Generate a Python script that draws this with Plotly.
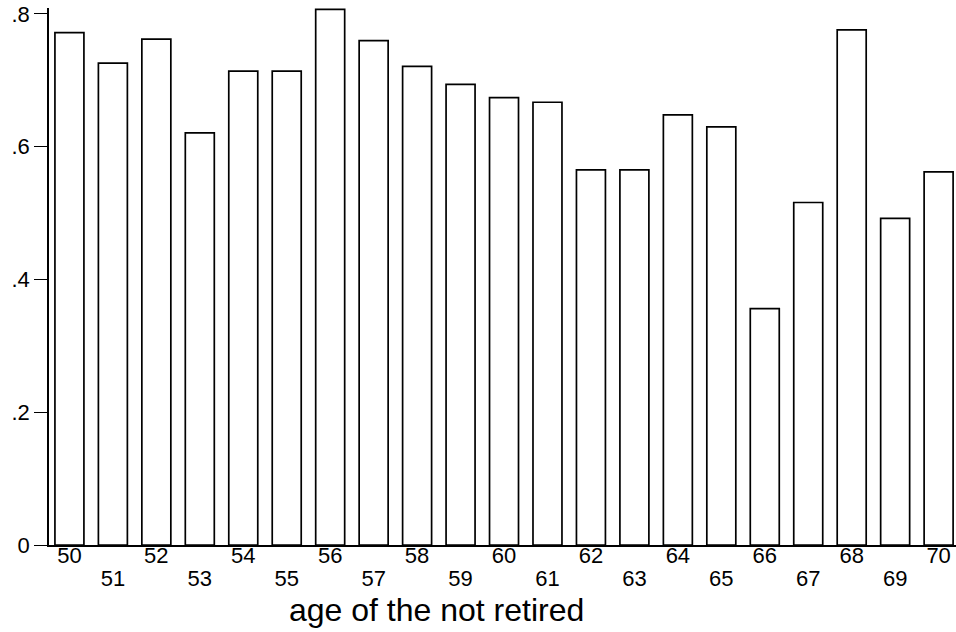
import plotly.graph_objects as go

ages = list(range(50, 71))
share = [0.772, 0.726, 0.762, 0.621, 0.714, 0.714, 0.807, 0.760, 0.721, 0.694,
         0.674, 0.667, 0.565, 0.565, 0.648, 0.630, 0.356, 0.516, 0.776, 0.492, 0.562]
even_ages = [a for a in ages if a % 2 == 0]
odd_ages = [a for a in ages if a % 2 == 1]
y_ticks = [0, 0.2, 0.4, 0.6, 0.8]
y_labels = ["0", ".2", ".4", ".6", ".8"]
x_title = "age of the not retired"

FONT = "Liberation Sans, Arial, sans-serif"

fig = go.Figure()
fig.add_trace(go.Bar(
    x=ages, y=share,
    marker=dict(color="white", line=dict(color="black", width=1.7)),
    showlegend=False, hoverinfo="x+y",
))
fig.add_trace(go.Scatter(
    x=odd_ages, y=[None] * len(odd_ages), xaxis="x2", yaxis="y",
    mode="markers", showlegend=False, hoverinfo="skip",
))

xr = [49.53, 70.40]
fig.update_layout(
    width=956, height=632,
    margin=dict(l=49, r=0, t=8, b=87),
    paper_bgcolor="white", plot_bgcolor="white",
    bargap=0.333,
    font=dict(family=FONT, color="black"),
    xaxis=dict(
        range=xr, tickmode="array", tickvals=even_ages,
        ticktext=[str(a) for a in even_ages],
        showline=True, linecolor="black", linewidth=1.5,
        showgrid=False, zeroline=False, ticks="",
        tickfont=dict(size=22, family=FONT, color="black"),
        ticklabelstandoff=-10, automargin=False,
    ),
    xaxis2=dict(
        range=xr, overlaying="x", matches="x", side="bottom",
        tickmode="array", tickvals=odd_ages,
        ticktext=[str(a) for a in odd_ages],
        showline=False, showgrid=False, zeroline=False, ticks="",
        tickfont=dict(size=22, family=FONT, color="black"),
        ticklabelstandoff=18, automargin=False,
    ),
    yaxis=dict(
        range=[0, 0.809], tickmode="array", tickvals=y_ticks, ticktext=y_labels,
        showline=True, linecolor="black", linewidth=1.5,
        ticks="outside", ticklen=13, tickwidth=1.4, tickcolor="black",
        showgrid=False, zeroline=False,
        tickfont=dict(size=22, family=FONT, color="black"),
        ticklabelstandoff=0, automargin=False,
    ),
    annotations=[dict(
        text=x_title, xref="paper", yref="paper",
        x=0.4267, y=-0.121, xanchor="center", yanchor="middle",
        showarrow=False, font=dict(size=32, family=FONT, color="black"),
    )],
)

fig.write_html("out.html", config={"displayModeBar": False},
               post_script="document.body.style.margin='0';")
